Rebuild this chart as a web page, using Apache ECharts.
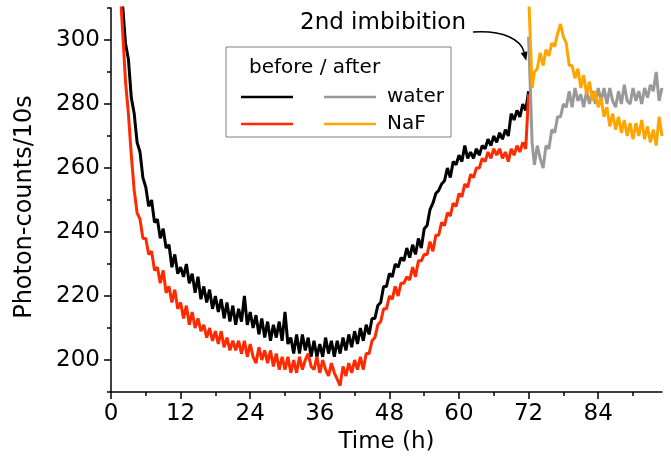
<!DOCTYPE html>
<html><head><meta charset="utf-8">
<script src="https://cdn.jsdelivr.net/npm/echarts@6/dist/echarts.min.js"></script>
<style>html,body{margin:0;padding:0;background:#fff}#c{width:671px;height:463px}</style>
</head><body><div id="c"></div><script>
// ---- data ----
const beforeStart = 1.5, beforeStep = 0.5;   // hours
const blackBefore = [322,311,299,294,282,277,268,265,257,254,248,250,243,244,238,241,235,236,229,233,
227,229,226,230,224,227,221,226,219,223,218,222,216,220,215,219,213,218,212,217,
211,216,212,220,211,215,210,214,208,213,207,212,206,211,207,212,206,215,205,207,
202,208,202,208,203,207,201,206,201,205,201,207,202,206,201,206,202,207,203,208,
204,209,205,210,206,211,208,213,213,217,218,223,223,227,226,230,229,232,231,235,
232,236,233,238,235,241,242,247,249,252,253,255,256,260,257,262,261,264,262,267,
263,265,263,266,264,267,266,269,267,270,268,271,269,272,270,277,275,278,276,280,278,284];
const redBefore = [318,303,287,277,264,253,246,244,238,238,233,234,228,229,224,228,221,223,218,222,
216,218,213,217,211,215,210,213,209,211,207,210,206,209,205,209,204,207,203,206,
203,206,202,206,201,205,201,199,204,200,203,199,203,198,202,197,201,197,201,196,
200,196,201,197,200,202,198,197,201,196,200,197,195,199,196,194,192,198,195,199,
196,200,197,201,197,202,202,206,207,211,212,216,216,220,219,223,220,224,224,226,
225,229,226,231,231,233,233,237,234,239,239,243,242,246,245,249,248,252,251,255,
254,258,257,260,260,263,262,265,263,266,264,266,263,265,262,266,264,267,265,268,266,283];
const afterTimes = [72,72.3,72.6,73,73.5,74,74.5,75,75.5,76,76.5,77,77.5,78,78.5,79,79.5,80,80.5,81,
81.5,82,82.5,83,83.5,84,84.5,85,85.5,86,86.5,87,87.5,88,88.5,89,89.5,90,90.5,91,
91.5,92,92.5,93,93.5,94,94.5,95];
const waterAfter = [301,285,268,261,267,263,260,267,266,272,271,276,276,280,279,284,279,285,281,283,
279,284,280,284,280,285,281,285,280,285,281,279,284,280,286,281,280,285,281,284,
280,285,282,286,284,290,281,285];
const nafAfter = [315,300,285,290,291,296,292,297,295,299,298,302,305,301,299,292,292,288,291,285,
289,283,287,281,284,279,282,276,279,273,277,272,276,271,275,270,274,269,274,270,
275,269,273,268,272,267,276,270];
const xMajor = [0,12,24,36,48,60,72,84];
const xMinor = [6,18,30,42,54,66,78,90];
const yMajor = [200,220,240,260,280,300];
const yMinor = [190,210,230,250,270,290,310];

const FF = 'DejaVu Sans';
const chart = echarts.init(document.getElementById('c'), null, {renderer:'canvas'});
const toPairs = (vals) => vals.map((v,i)=>[beforeStart + i*beforeStep, v]);
const toPairsT = (ts, vals) => vals.map((v,i)=>[ts[i], v]);
const axisLine = {show:true, lineStyle:{color:'#000', width:1.5}};
const lineS = (name, data, color) => ({
  name, type:'line', data, showSymbol:false, symbol:'none', animation:false,
  lineStyle:{color, width:3}, itemStyle:{color}, clip:true, z:2
});

chart.setOption({
  animation:false,
  backgroundColor:'#fff',
  grid:{left:111, right:9, top:8, bottom:71, containLabel:false},
  xAxis:[{
    type:'value', min:0, max:95, position:'bottom',
    axisLine, splitLine:{show:false},
    axisTick:{show:true, inside:false, length:7, customValues:xMajor, lineStyle:{color:'#000', width:1.5}},
    axisLabel:{customValues:xMajor, fontSize:23, fontFamily:FF, color:'#000', margin:11},
    name:'Time (h)', nameLocation:'middle', nameGap:39,
    nameTextStyle:{fontSize:23, fontFamily:FF, color:'#000'}
  },{
    type:'value', min:0, max:95, position:'bottom',
    axisLine:{show:false}, splitLine:{show:false}, axisLabel:{show:false},
    axisTick:{show:true, inside:false, length:4, customValues:xMinor, lineStyle:{color:'#000', width:1.5}}
  }],
  yAxis:[{
    type:'value', min:190, max:310, position:'left',
    axisLine, splitLine:{show:false},
    axisTick:{show:true, inside:false, length:7, customValues:yMajor, lineStyle:{color:'#000', width:1.5}},
    axisLabel:{customValues:yMajor, fontSize:23, fontFamily:FF, color:'#000', margin:11},
    name:'Photon-counts/10s', nameLocation:'middle', nameRotate:90, nameGap:74,
    nameTextStyle:{fontSize:24, fontFamily:FF, color:'#000', padding:[0,14,0,0]}
  },{
    type:'value', min:190, max:310, position:'left',
    axisLine:{show:false}, splitLine:{show:false}, axisLabel:{show:false},
    axisTick:{show:true, inside:false, length:4, customValues:yMinor, lineStyle:{color:'#000', width:1.5}}
  }],
  series:[
    lineS('before water', toPairs(blackBefore), '#000000'),
    lineS('before NaF', toPairs(redBefore), '#ff2a00'),
    lineS('after water', toPairsT(afterTimes, waterAfter), '#999999'),
    lineS('after NaF', toPairsT(afterTimes, nafAfter), '#ffa500')
  ]
});

// annotation arrow pointing at the 2nd imbibition moment
const tip = chart.convertToPixel({xAxisIndex:0, yAxisIndex:0}, [71.6, 293.5]);
const start = [473, 32];
const c1 = [504, 30], c2 = [521, 40];
let dx = tip[0]-c2[0], dy = tip[1]-c2[1];
const L = Math.hypot(dx,dy); dx/=L; dy/=L;
const ah = 9, aw = 3.5;
const base = [tip[0]-dx*ah, tip[1]-dy*ah];
const tri = [[tip[0],tip[1]],[base[0]-dy*aw, base[1]+dx*aw],[base[0]+dy*aw, base[1]-dx*aw]];
const legFont = {fontSize:20, fontFamily:FF, fill:'#000'};
chart.setOption({graphic:[
  {type:'text', left:300, top:12, style:{text:'2nd imbibition', fontSize:23, fontFamily:FF, fill:'#000'}},
  {type:'bezierCurve', shape:{x1:start[0], y1:start[1], cpx1:c1[0], cpy1:c1[1], cpx2:c2[0], cpy2:c2[1], x2:base[0], y2:base[1]},
   style:{stroke:'#000', lineWidth:1.5, fill:null}},
  {type:'polygon', shape:{points:tri}, style:{fill:'#000'}},
  {type:'rect', shape:{x:226, y:47, width:225, height:90}, style:{fill:'#fff', stroke:'#808080', lineWidth:1}, z:10},
  {type:'text', x:249, y:68, style:Object.assign({text:'before / after', verticalAlign:'middle'}, legFont), z:11},
  {type:'line', shape:{x1:241, y1:97, x2:293, y2:97}, style:{stroke:'#000', lineWidth:2.5}, z:11},
  {type:'line', shape:{x1:241, y1:124, x2:293, y2:124}, style:{stroke:'#ff2a00', lineWidth:2.5}, z:11},
  {type:'line', shape:{x1:324, y1:97, x2:376, y2:97}, style:{stroke:'#999999', lineWidth:2.5}, z:11},
  {type:'line', shape:{x1:324, y1:124, x2:376, y2:124}, style:{stroke:'#ffa500', lineWidth:2.5}, z:11},
  {type:'text', x:387, y:97, style:Object.assign({text:'water', verticalAlign:'middle'}, legFont), z:11},
  {type:'text', x:387, y:124, style:Object.assign({text:'NaF', verticalAlign:'middle'}, legFont), z:11}
]});
</script></body></html>
